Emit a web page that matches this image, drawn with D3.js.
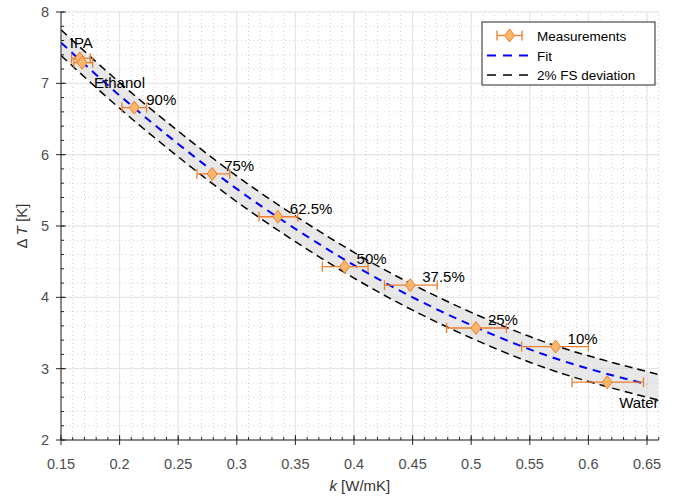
<!DOCTYPE html>
<html>
<head>
  <title>Delta T vs k</title>
  <script src="https://d3js.org/d3.v7.min.js"></script>
  <style>
    body { margin: 0; background: #fff; }
    svg { font-family: "Liberation Sans", Arial, sans-serif; }
    .grid-major line { stroke: #e3e3e3; stroke-width: 1; }
    .grid-minor line { stroke: #d0d0d0; stroke-width: 1; stroke-dasharray: 1,3; }
    .axis path, .axis line { stroke: #262626; }
    .axis text { fill: #4d4d4d; font-size: 14.5px; }
  </style>
</head>
<body>
  <script>
    // measurements
    var names = ["IPA", "Ethanol", "90%", "75%", "62.5%", "50%", "37.5%", "25%", "10%", "Water"];
    var kVal  = [0.166, 0.168, 0.2125, 0.279, 0.335, 0.392, 0.448, 0.504, 0.572, 0.616];
    var dT    = [7.35, 7.29, 6.66, 5.73, 5.13, 4.43, 4.17, 3.57, 3.31, 2.81];
    var kLo   = [0.159, 0.161, 0.202, 0.266, 0.319, 0.373, 0.426, 0.479, 0.543, 0.586];
    var kHi   = [0.175, 0.177, 0.223, 0.294, 0.352, 0.412, 0.471, 0.530, 0.600, 0.647];

    // fit curve and deviation band
    var fitK   = [0.15, 0.20, 0.25, 0.30, 0.35, 0.40, 0.45, 0.50, 0.55, 0.60, 0.65, 0.66];
    var fitT   = [7.57, 6.83, 6.15, 5.52, 4.96, 4.45, 4.00, 3.61, 3.27, 3.00, 2.78, 2.74];
    var upperT = [7.75, 7.01, 6.33, 5.70, 5.14, 4.63, 4.18, 3.79, 3.45, 3.18, 2.96, 2.92];
    var lowerT = [7.39, 6.65, 5.97, 5.34, 4.78, 4.27, 3.82, 3.43, 3.09, 2.82, 2.60, 2.56];

    var xTicks = [0.15, 0.2, 0.25, 0.3, 0.35, 0.4, 0.45, 0.5, 0.55, 0.6, 0.65];
    var yTicks = [2, 3, 4, 5, 6, 7, 8];

    var W = 681, H = 500;
    var x0 = 61, x1 = 647;   // pixel of 0.15 and 0.65
    var y0 = 440, y1 = 12;   // pixel of 2 and 8

    var x = d3.scaleLinear().domain([0.15, 0.65]).range([x0, x1]);
    var xMax = 0.66;
    var y = d3.scaleLinear().domain([2, 8]).range([y0, y1]);

    var svg = d3.select("body").append("svg")
        .attr("width", W)
        .attr("height", H);

    svg.append("defs").append("clipPath").attr("id", "plot")
      .append("rect")
        .attr("x", x(0.15)).attr("y", y(8))
        .attr("width", x(xMax) - x(0.15)).attr("height", y(2) - y(8));

    // minor grid
    var minorX = d3.range(0.15, xMax + 1e-6, 0.01);
    var minorY = d3.range(2, 8 + 1e-6, 0.2);
    var gm = svg.append("g").attr("class", "grid-minor");
    gm.selectAll("line.vx").data(minorX).enter().append("line")
        .attr("x1", d => x(d)).attr("x2", d => x(d))
        .attr("y1", y(2)).attr("y2", y(8));
    gm.selectAll("line.hy").data(minorY).enter().append("line")
        .attr("x1", x(0.15)).attr("x2", x(xMax))
        .attr("y1", d => y(d)).attr("y2", d => y(d));

    // major grid
    var gg = svg.append("g").attr("class", "grid-major");
    gg.selectAll("line.vx").data(xTicks).enter().append("line")
        .attr("x1", d => x(d)).attr("x2", d => x(d))
        .attr("y1", y(2)).attr("y2", y(8));
    gg.selectAll("line.hy").data(yTicks).enter().append("line")
        .attr("x1", x(0.15)).attr("x2", x(xMax))
        .attr("y1", d => y(d)).attr("y2", d => y(d));

    var plot = svg.append("g").attr("clip-path", "url(#plot)");

    // deviation band
    var bandData = fitK.map((k, i) => ({k: k, lo: lowerT[i], hi: upperT[i]}));
    plot.append("path")
        .datum(bandData)
        .attr("fill", "#d9d9d9")
        .attr("fill-opacity", 0.6)
        .attr("d", d3.area().curve(d3.curveNatural)
            .x(d => x(d.k)).y0(d => y(d.lo)).y1(d => y(d.hi)));

    function curveLine(vals) {
        return d3.line().curve(d3.curveNatural)
            .x((d, i) => x(fitK[i])).y(d => y(d))(vals);
    }

    plot.append("path").attr("d", curveLine(upperT))
        .attr("fill", "none").attr("stroke", "#000").attr("stroke-width", 1.5)
        .attr("stroke-dasharray", "8,5");
    plot.append("path").attr("d", curveLine(lowerT))
        .attr("fill", "none").attr("stroke", "#000").attr("stroke-width", 1.5)
        .attr("stroke-dasharray", "8,5");
    plot.append("path").attr("d", curveLine(fitT.slice(0, 11).concat([])))
        .attr("fill", "none").attr("stroke", "#0000ff").attr("stroke-width", 2)
        .attr("stroke-dasharray", "8,6");

    // measurements with horizontal error bars
    var orange = "#ee7d2c", orangeFill = "#fbb86b";
    var pts = names.map((n, i) => ({name: n, k: kVal[i], t: dT[i], lo: kLo[i], hi: kHi[i]}));
    var eb = svg.append("g").attr("stroke", orange).attr("stroke-width", 1.3);
    eb.selectAll("line.bar").data(pts).enter().append("line")
        .attr("x1", d => x(d.lo)).attr("x2", d => x(d.hi))
        .attr("y1", d => y(d.t)).attr("y2", d => y(d.t));
    eb.selectAll("line.capl").data(pts).enter().append("line")
        .attr("x1", d => x(d.lo)).attr("x2", d => x(d.lo))
        .attr("y1", d => y(d.t) - 5).attr("y2", d => y(d.t) + 5);
    eb.selectAll("line.caph").data(pts).enter().append("line")
        .attr("x1", d => x(d.hi)).attr("x2", d => x(d.hi))
        .attr("y1", d => y(d.t) - 5).attr("y2", d => y(d.t) + 5);

    function diamond(cx, cy) {
        return "M" + cx + "," + (cy - 6.5) + "L" + (cx + 5) + "," + cy +
               "L" + cx + "," + (cy + 6.5) + "L" + (cx - 5) + "," + cy + "Z";
    }
    svg.append("g").selectAll("path").data(pts).enter().append("path")
        .attr("d", d => diamond(x(d.k), y(d.t)))
        .attr("fill", orangeFill).attr("stroke", orange).attr("stroke-width", 1);

    // point labels (default right/above, a few placed elsewhere)
    var labelOffset = {"IPA": [-10, -10], "Ethanol": [12, 25], "Water": [12, 26]};
    svg.append("g").selectAll("text").data(pts).enter().append("text")
        .attr("x", d => x(d.k) + (labelOffset[d.name] || [12, -3])[0])
        .attr("y", d => y(d.t) + (labelOffset[d.name] || [12, -3])[1])
        .attr("font-size", "15px")
        .attr("fill", "#000")
        .text(d => d.name);

    // axes
    var xAxis = svg.append("g").attr("class", "axis")
        .attr("transform", "translate(0," + y(2) + ")");
    xAxis.append("line").attr("x1", x(0.15)).attr("x2", x(xMax));
    xAxis.selectAll("line.minor").data(minorX).enter().append("line")
        .attr("x1", d => x(d)).attr("x2", d => x(d)).attr("y1", 0).attr("y2", -3);
    xAxis.selectAll("line.major").data(xTicks).enter().append("line")
        .attr("x1", d => x(d)).attr("x2", d => x(d)).attr("y1", -5).attr("y2", 5);
    xAxis.selectAll("text").data(xTicks).enter().append("text")
        .attr("x", d => x(d)).attr("y", 29)
        .attr("text-anchor", "middle")
        .text(d => d3.format("")(d));

    var yAxis = svg.append("g").attr("class", "axis")
        .attr("transform", "translate(" + x(0.15) + ",0)");
    yAxis.append("line").attr("y1", y(2)).attr("y2", y(8));
    yAxis.selectAll("line.minor").data(minorY).enter().append("line")
        .attr("y1", d => y(d)).attr("y2", d => y(d)).attr("x1", 0).attr("x2", 3);
    yAxis.selectAll("line.major").data(yTicks).enter().append("line")
        .attr("y1", d => y(d)).attr("y2", d => y(d)).attr("x1", -5).attr("x2", 5);
    yAxis.selectAll("text").data(yTicks).enter().append("text")
        .attr("x", -12).attr("y", d => y(d) + 5)
        .attr("text-anchor", "end")
        .text(d => d);

    // axis titles
    var xt = svg.append("text")
        .attr("x", (x(0.15) + x(xMax)) / 2).attr("y", 491)
        .attr("text-anchor", "middle").attr("font-size", "15px").attr("fill", "#333");
    xt.append("tspan").attr("font-style", "italic").text("k");
    xt.append("tspan").text(" [W/mK]");

    var yt = svg.append("text")
        .attr("transform", "translate(27," + ((y(2) + y(8)) / 2) + ") rotate(-90)")
        .attr("text-anchor", "middle").attr("font-size", "15px").attr("fill", "#333");
    yt.append("tspan").text("\u0394 ");
    yt.append("tspan").attr("font-style", "italic").text("T");
    yt.append("tspan").text(" [K]");

    // legend
    var lg = svg.append("g").attr("transform", "translate(482,22)");
    lg.append("rect").attr("width", 173).attr("height", 63)
        .attr("fill", "#fff").attr("stroke", "#262626").attr("stroke-width", 1);
    var rows = [13.5, 33.5, 53];
    var lt = ["Measurements", "Fit", "2% FS deviation"];
    lg.selectAll("text").data(lt).enter().append("text")
        .attr("x", 55).attr("y", (d, i) => rows[i] + 5)
        .attr("font-size", "13.5px").attr("fill", "#000")
        .text(d => d);
    // measurements icon
    lg.append("line").attr("x1", 15).attr("x2", 40).attr("y1", rows[0]).attr("y2", rows[0])
        .attr("stroke", orange).attr("stroke-width", 1.3);
    lg.append("line").attr("x1", 15).attr("x2", 15).attr("y1", rows[0] - 5).attr("y2", rows[0] + 5)
        .attr("stroke", orange).attr("stroke-width", 1.3);
    lg.append("line").attr("x1", 40).attr("x2", 40).attr("y1", rows[0] - 5).attr("y2", rows[0] + 5)
        .attr("stroke", orange).attr("stroke-width", 1.3);
    lg.append("path").attr("d", diamond(27.5, rows[0]))
        .attr("fill", orangeFill).attr("stroke", orange);
    lg.append("line").attr("x1", 5).attr("x2", 51).attr("y1", rows[1]).attr("y2", rows[1])
        .attr("stroke", "#0000ff").attr("stroke-width", 2).attr("stroke-dasharray", "9,7");
    lg.append("line").attr("x1", 5).attr("x2", 51).attr("y1", rows[2]).attr("y2", rows[2])
        .attr("stroke", "#000").attr("stroke-width", 1.5).attr("stroke-dasharray", "9,7");
  </script>
</body>
</html>
